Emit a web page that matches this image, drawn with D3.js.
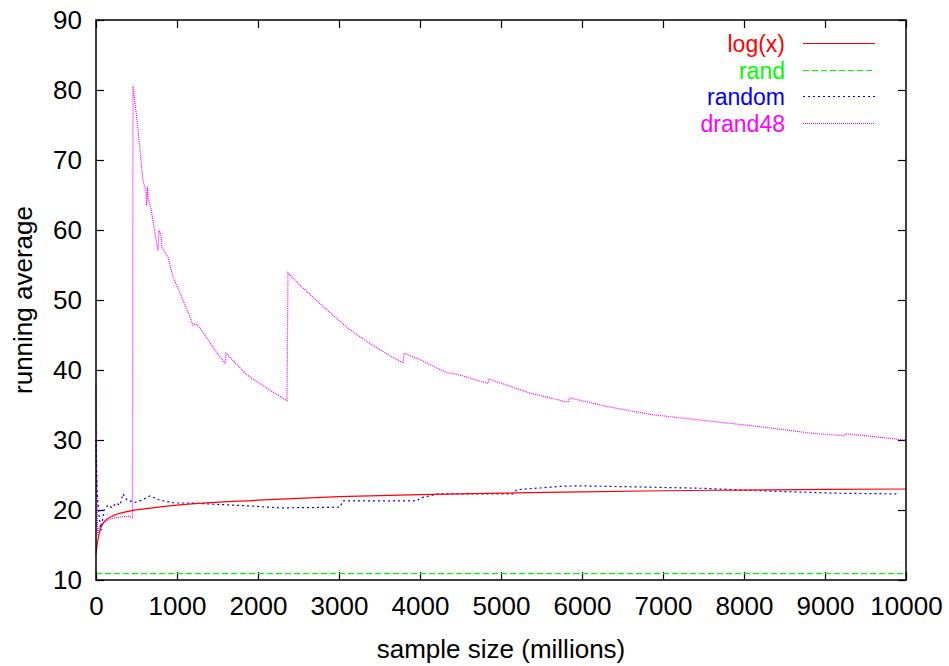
<!DOCTYPE html>
<html>
<head>
<meta charset="utf-8">
<script src="https://cdn.jsdelivr.net/npm/d3@7"></script>
<style>
  body { margin: 0; background: #fff; }
  text { font-family: "Liberation Sans", Arial, sans-serif; }
</style>
</head>
<body>
<div id="chart"></div>
<script>
// values, x in millions of samples
var xTicks = [0, 1000, 2000, 3000, 4000, 5000, 6000, 7000, 8000, 9000, 10000]
var yTicks = [10, 20, 30, 40, 50, 60, 70, 80, 90]

var logX = [[0, 13.8], [20, 15.5], [60, 17.5], [100, 18.3], [200, 19.1], [400, 19.8],
  [700, 20.3], [1000, 20.7], [2000, 21.4], [3000, 21.9], [4000, 22.2], [5000, 22.4],
  [6000, 22.6], [7000, 22.75], [8000, 22.85], [9000, 22.95], [10000, 23.0]]

var randSeries = [[0, 10.9], [10000, 10.9]]

var randomSeries = [[0, 30], [12, 22.9], [37, 19.3], [62, 17.1], [99, 20], [148, 20.7],
  [198, 20.3], [247, 21], [296, 20.7], [333, 22.3], [383, 21.4], [481, 21.1],
  [543, 21.3], [667, 22], [790, 21.4], [975, 21], [1160, 21], [1500, 20.8],
  [1864, 20.6], [2272, 20.3], [3012, 20.4], [3049, 21.3], [3963, 21.3], [4000, 21.7],
  [4222, 22.3], [5148, 22.3], [5198, 22.9], [5765, 23.4], [5975, 23.45], [6679, 23.3],
  [7494, 23.1], [8321, 22.7], [9148, 22.4], [9889, 22.3]]

var drand48Series = [[0, 38], [8, 25], [20, 16.5], [50, 17.8], [100, 18.3], [200, 18.8],
  [300, 19.0], [400, 19.1], [450, 18.9], [457, 80.6], [506, 75.7], [543, 71.4],
  [580, 67.1], [617, 65.5], [625, 63.5], [635, 66.2], [645, 64.4], [679, 63.1],
  [753, 57.8], [765, 57.0], [775, 60.0], [802, 59.3], [815, 57.5], [889, 56.1],
  [951, 53.3], [1037, 51], [1160, 47.6], [1198, 46.4], [1230, 46.6], [1284, 46.0],
  [1494, 42.4], [1593, 41], [1605, 42.4], [1864, 39.3], [2148, 37.1], [2358, 35.6],
  [2370, 53.9], [2500, 52.3], [2679, 50.4], [2850, 48.6], [3099, 46.1], [3300, 44.4],
  [3506, 42.9], [3650, 41.9], [3790, 41], [3802, 42.4], [4000, 41.5], [4150, 40.6],
  [4333, 39.6], [4457, 39.4], [4741, 38.4], [4840, 38.1], [4852, 38.7], [5358, 36.7],
  [5827, 35.4], [5852, 36], [6346, 34.7], [6877, 33.6], [7580, 32.7], [8198, 31.9],
  [8815, 31], [9222, 30.6], [9272, 30.9], [9901, 30.1], [10000, 30.0]]

var seriesNames = ["log(x)", "rand", "random", "drand48"]
var seriesColors = ["#ff0000", "#00ff00", "#0000ff", "#ff00ff"]
var seriesDash = [null, "6,3", "2,3", "1,1"]

var width = 949, height = 666
var mLeft = 96, mRight = 906, mTop = 20, mBottom = 580
var fontSize = "26px"

var svg = d3.select("#chart").append("svg")
  .attr("width", width)
  .attr("height", height)

var x = d3.scaleLinear().domain([0, 10000]).range([mLeft, mRight])
var y = d3.scaleLinear().domain([10, 90]).range([mBottom, mTop])

// ticks on all four sides, pointing inwards (gnuplot mirror)
var tickLen = 8
svg.append("g")
  .attr("transform", "translate(0," + mBottom + ")")
  .call(d3.axisBottom(x).tickValues(xTicks).tickFormat(d3.format("d"))
    .tickSizeInner(-tickLen).tickSizeOuter(0).tickPadding(17))
svg.append("g")
  .attr("transform", "translate(0," + mTop + ")")
  .call(d3.axisTop(x).tickValues(xTicks).tickSizeInner(-tickLen).tickSizeOuter(0).tickFormat(""))
svg.append("g")
  .attr("transform", "translate(" + mLeft + ",0)")
  .call(d3.axisLeft(y).tickValues(yTicks).tickSizeInner(-tickLen).tickSizeOuter(0).tickPadding(14))
svg.append("g")
  .attr("transform", "translate(" + mRight + ",0)")
  .call(d3.axisRight(y).tickValues(yTicks).tickSizeInner(-tickLen).tickSizeOuter(0).tickFormat(""))

svg.selectAll(".domain").remove()
svg.selectAll(".tick line").attr("stroke", "#000").attr("stroke-width", 1.2)
svg.selectAll(".tick text")
  .attr("fill", "#000")
  .style("font-size", fontSize)
  .style("font-family", "Liberation Sans, Arial, sans-serif")

// series
var allSeries = [logX, randSeries, randomSeries, drand48Series]
var line = d3.line().x(function(d) { return x(d[0]) }).y(function(d) { return y(d[1]) })
var smooth = d3.line().curve(d3.curveMonotoneX).x(function(d) { return x(d[0]) }).y(function(d) { return y(d[1]) })

for (var i = allSeries.length - 1; i >= 0; i--) {
  svg.append("path")
    .datum(allSeries[i])
    .attr("d", i == 0 ? smooth : line)
    .attr("fill", "none")
    .attr("stroke", seriesColors[i])
    .attr("stroke-width", 1.2)
    .attr("stroke-dasharray", seriesDash[i])
}

// frame
svg.append("rect")
  .attr("x", mLeft).attr("y", mTop)
  .attr("width", mRight - mLeft).attr("height", mBottom - mTop)
  .attr("fill", "none")
  .attr("stroke", "#000")
  .attr("stroke-width", 1.5)

// legend (rows are tight, so slightly smaller text)
var legendY = d3.scaleBand().domain(seriesNames).range([30, 136])
var legend = svg.append("g")
seriesNames.forEach(function(name, i) {
  var cy = Math.round(legendY(name) + legendY.bandwidth() / 2) + 0.5
  legend.append("text")
    .attr("x", 785).attr("y", cy + 8)
    .attr("text-anchor", "end")
    .attr("fill", seriesColors[i])
    .style("font-size", "23px")
    .text(name)
  legend.append("line")
    .attr("x1", 803).attr("x2", 875)
    .attr("y1", cy).attr("y2", cy)
    .attr("stroke", seriesColors[i])
    .attr("stroke-width", 1)
    .attr("stroke-dasharray", seriesDash[i])
})

// axis titles
svg.append("text")
  .attr("x", (mLeft + mRight) / 2).attr("y", 658)
  .attr("text-anchor", "middle")
  .style("font-size", fontSize)
  .text("sample size (millions)")
svg.append("text")
  .attr("transform", "translate(32," + ((mTop + mBottom) / 2) + ") rotate(-90)")
  .attr("text-anchor", "middle")
  .style("font-size", fontSize)
  .text("running average")
</script>
</body>
</html>
